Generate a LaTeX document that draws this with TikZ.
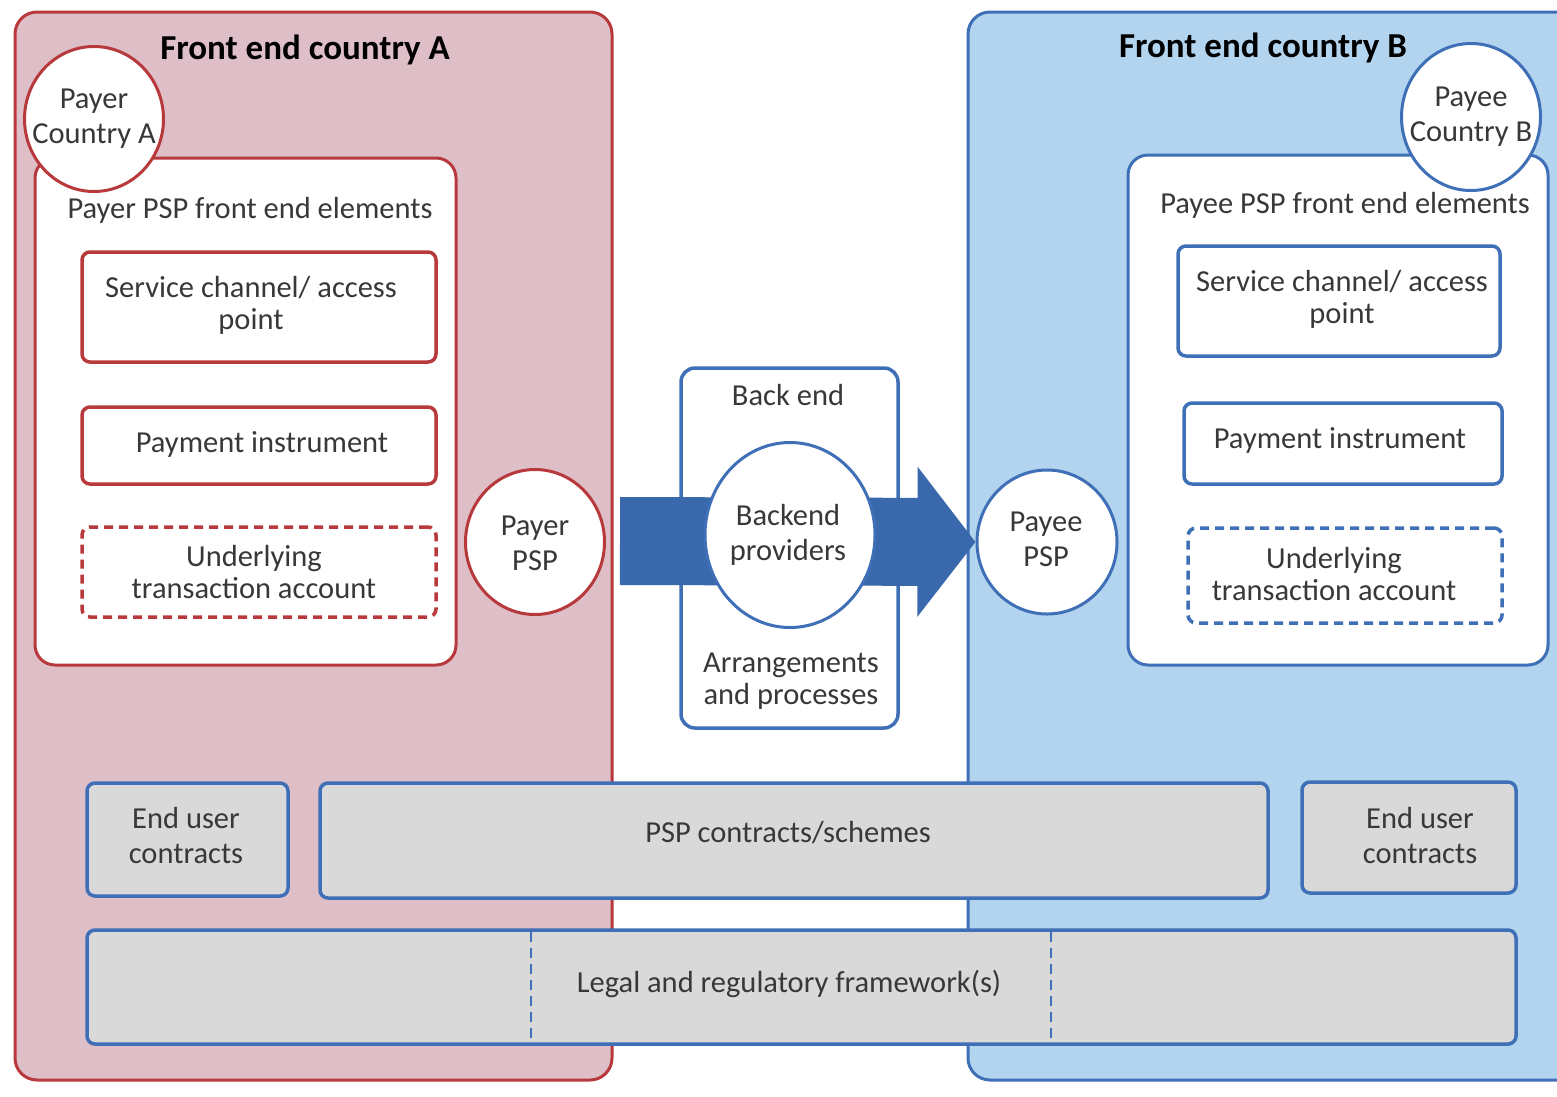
\documentclass[tikz,border=0pt]{standalone}
\usepackage{fontspec}
\setmainfont{Carlito}
\usetikzlibrary{shapes.geometric,arrows.meta}
\definecolor{pinkfill}{HTML}{DEBFC8}
\definecolor{redline}{HTML}{B8393C}
\definecolor{bluefill}{HTML}{B3D4EF}
\definecolor{blueline}{HTML}{3F6FB6}
\definecolor{grayfill}{HTML}{D9D9D9}
\definecolor{arrowblue}{HTML}{3A68AC}
\definecolor{txt}{HTML}{383838}
\begin{document}
\begin{tikzpicture}[x=1pt,y=-1pt,
  every node/.style={font=\fontsize{30.5}{32}\selectfont, text=txt, align=center, inner sep=0pt},
  regionA/.style={draw=redline, fill=pinkfill, rounded corners=22pt, line width=3pt},
  regionB/.style={draw=blueline, fill=bluefill, rounded corners=22pt, line width=3pt},
  innerA/.style={draw=redline, fill=white, rounded corners=20pt, line width=3pt},
  innerB/.style={draw=blueline, fill=white, rounded corners=20pt, line width=3pt},
  redbox/.style={draw=redline, fill=white, rounded corners=8pt, line width=3.5pt},
  bluebox/.style={draw=blueline, fill=white, rounded corners=8pt, line width=3.5pt},
  redcirc/.style={ellipse, draw=redline, fill=white, line width=3pt},
  bluecirc/.style={ellipse, draw=blueline, fill=white, line width=3pt},
  graybox/.style={draw=blueline, fill=grayfill, rounded corners=8pt, line width=3.5pt},
  title/.style={font=\bfseries\fontsize{35}{38}\selectfont, text=black},
  circtext/.style={font=\fontsize{30.5}{35}\selectfont},
]
\clip (0,0) rectangle (1557,1096);
\fill[white] (0,0) rectangle (1557,1096);

% big regions
\node[regionA, minimum width=597pt, minimum height=1068pt] (frontA) at (313.5,546) {};
\node[regionB, minimum width=620pt, minimum height=1068pt] (frontB) at (1278,546) {};
\node[title] (titleA) at (305,50) {Front end country A};
\node[title] (titleB) at (1263,48) {Front end country B};

% left inner
\node[innerA, minimum width=421pt, minimum height=507pt] (feA) at (245.5,411.5) {};
\node (feAlabel) at (250,210) {Payer PSP front end elements};
\node[redbox, minimum width=354pt, minimum height=110pt] (scA) at (259,307) {};
\node (scAtext) at (251,305) {Service channel/ access\\point};
\node[redbox, minimum width=354pt, minimum height=77pt] (piA) at (259,445.5) {};
\node (piAtext) at (262,444) {Payment instrument};
\node[redbox, dashed, dash pattern=on 9pt off 6pt, minimum width=354pt, minimum height=90pt] (utA) at (259,572) {};
\node (utAtext) at (254,572) {Underlying\\transaction account};
\node[redcirc, minimum width=139pt, minimum height=145pt] (payerA) at (94,119) {};
\node[circtext] (payerAtext) at (payerA.center) {Payer\\Country A};

% right inner
\node[innerB, minimum width=420pt, minimum height=510pt] (feB) at (1338,410) {};
\node (feBlabel) at (1345,205) {Payee PSP front end elements};
\node[bluebox, minimum width=322pt, minimum height=110pt] (scB) at (1339,301) {};
\node (scBtext) at (1342,299) {Service channel/ access\\point};
\node[bluebox, minimum width=318pt, minimum height=81pt] (piB) at (1343,443.5) {};
\node (piBtext) at (1340,440) {Payment instrument};
\node[bluebox, dashed, dash pattern=on 9pt off 6pt, minimum width=314pt, minimum height=95pt] (utB) at (1345,575.5) {};
\node (utBtext) at (1334,574) {Underlying\\transaction account};
\node[bluecirc, minimum width=139pt, minimum height=147pt] (payeeB) at (1471,117) {};
\node[circtext] (payeeBtext) at (payeeB.center) {Payee\\Country B};

% back end
\node[bluebox, rounded corners=14pt, minimum width=217pt, minimum height=360pt] (backend) at (789.5,548) {};
\node (belabel) at (788,395) {Back end};
\node (arrlabel) at (791,681) {Arrangements\\and processes};

% PSP circles
\node[redcirc, minimum width=139pt, minimum height=145pt] (payerpsp) at (535,542) {};
\node[circtext] (payerpsptext) at (535,543) {Payer\\PSP};
\node[bluecirc, minimum width=140pt, minimum height=144pt] (payeepsp) at (1047,542) {};
\node[circtext] (payeepsptext) at (1046,539) {Payee\\PSP};

% arrow
\coordinate (arrstart) at (620,541);
\draw[arrowblue, line width=88pt, -{Triangle[length=58pt,width=147pt]}] (arrstart) -- (payeepsp.west);
\node[bluecirc, minimum width=170pt, minimum height=185pt] (providers) at (790,535) {};
\node[circtext] (providerstext) at (788,535) {Backend\\providers};

% bottom bars
\node[graybox, minimum width=201pt, minimum height=113pt] (euA) at (187.5,839.5) {};
\node[circtext] (euAtext) at (186,836) {End user\\contracts};
\node[graybox, minimum width=948pt, minimum height=115pt] (psp) at (794,840.5) {};
\node (psplabel) at (788,833) {PSP contracts/schemes};
\node[graybox, minimum width=214pt, minimum height=111pt] (euB) at (1409,837.5) {};
\node[circtext] (euBtext) at (1420,836) {End user\\contracts};
\node[graybox, minimum width=1429pt, minimum height=114pt] (legal) at (801.5,987) {};
\node (legaltext) at (789,984) {Legal and regulatory framework(s)};
\coordinate (d1t) at (531,932);
\coordinate (d1b) at (531,1042);
\coordinate (d2t) at (1051,932);
\coordinate (d2b) at (1051,1042);
\draw[blueline, line width=2.5pt, dash pattern=on 10pt off 6pt] (d1t) -- (d1b);
\draw[blueline, line width=2.5pt, dash pattern=on 10pt off 6pt] (d2t) -- (d2b);
\end{tikzpicture}
\end{document}
